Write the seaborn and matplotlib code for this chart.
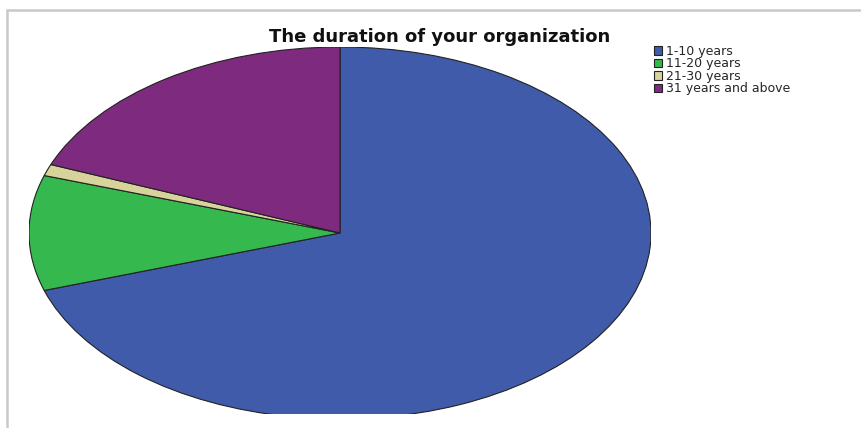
import matplotlib
matplotlib.use("Agg")
import matplotlib.pyplot as plt
import seaborn as sns
from matplotlib.patches import Rectangle

categories = ["1-10 years", "11-20 years", "21-30 years", "31 years and above"]
values = [70, 10, 1, 19]
colors = ["#3F5BAA", "#35B94F", "#D8D39B", "#7E2A7E"]
title = "The duration of your organization"

sns.set_theme(style="white")
plt.rcParams["font.family"] = ["DejaVu Sans"]

W, H = 861, 428
fig = plt.figure(figsize=(W / 100, H / 100), dpi=100)
fig.patch.set_facecolor("white")

# frame border like the screenshot
fig.add_artist(Rectangle((7 / W, -0.05), 1.2, 1 - 10 / H + 0.05,
                         transform=fig.transFigure, fill=False,
                         edgecolor="#c9c9c9", lw=1.8))

cx, cy, rx, ry = 340, 233, 311, 186
clip_bottom = 414
ax = fig.add_axes([(cx - rx) / W, (H - clip_bottom) / H, 2 * rx / W,
                   (clip_bottom - (cy - ry)) / H])
wedges, _ = ax.pie(values, colors=sns.color_palette(colors), startangle=90,
                   counterclock=False,
                   wedgeprops=dict(edgecolor="#222222", linewidth=0.8))
for w in wedges:
    w.set_clip_on(True)
ax.set_aspect("auto")
ax.set_xlim(-1, 1)
ax.set_ylim(-(clip_bottom - cy) / ry, 1)
ax.axis("off")

fig.text(440 / W, 1 - 37 / H, title, ha="center", va="center",
         fontsize=13, fontweight="bold", color="#111111")

handles = [Rectangle((0, 0), 1, 1, facecolor=c, edgecolor="#222222", lw=0.8)
           for c in colors]
fig.legend(handles, categories, loc="upper left",
           bbox_to_anchor=(654 / W, 1 - 45 / H), frameon=False,
           fontsize=9, handlelength=0.65, handleheight=0.65,
           handletextpad=0.3, labelspacing=-0.05, borderpad=0,
           borderaxespad=0)

fig.savefig("out.png", dpi=100)
